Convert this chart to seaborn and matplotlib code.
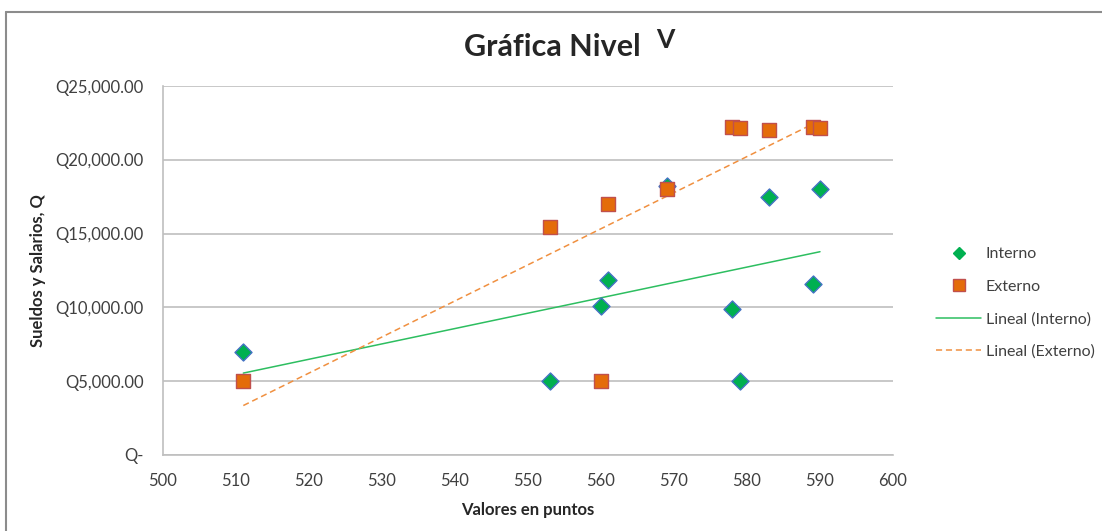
import numpy as np
import pandas as pd
import matplotlib
matplotlib.use("Agg")
import matplotlib.pyplot as plt
import seaborn as sns
from matplotlib.lines import Line2D
from matplotlib.ticker import FuncFormatter

# -------- Datos --------
puntos_interno = [511, 553, 560, 561, 569, 578, 579, 583, 589, 590]
sueldo_interno = [7000, 5000, 10100, 11850, 18200, 9900, 5000, 17450, 11600, 18000]

puntos_externo = [511, 553, 560, 561, 569, 578, 579, 583, 589, 590]
sueldo_externo = [5000, 15450, 5000, 17000, 18000, 22200, 22150, 22000, 22200, 22150]

x_ticks = [500, 510, 520, 530, 540, 550, 560, 570, 580, 590, 600]
y_ticks = [0, 5000, 10000, 15000, 20000, 25000]

df_int = pd.DataFrame({"puntos": puntos_interno, "sueldo": sueldo_interno})
df_ext = pd.DataFrame({"puntos": puntos_externo, "sueldo": sueldo_externo})

# -------- Estilo --------
sns.set_style("white")
plt.rcParams["font.family"] = ["Lato", "DejaVu Sans"]

VERDE = "#00B050"
AZUL = "#4472C4"
NARANJA = "#E46C0A"
ROJO = "#C0504D"
VERDE_TEND = "#2DBE60"
NARANJA_TEND = "#F09040"
GUION = (0, (4, 2.5))

fig = plt.figure(figsize=(11.02, 5.31), dpi=100)
ax = fig.add_axes([163 / 1102, 1 - 455 / 531, (893 - 163) / 1102, (455 - 86) / 531])

# líneas de tendencia (regresión lineal)
sns.regplot(data=df_int, x="puntos", y="sueldo", scatter=False, ci=None, ax=ax,
            line_kws={"color": VERDE_TEND, "lw": 1.1, "zorder": 2})
sns.regplot(data=df_ext, x="puntos", y="sueldo", scatter=False, ci=None, ax=ax,
            line_kws={"color": NARANJA_TEND, "lw": 1.1, "ls": GUION, "zorder": 2})

# puntos
sns.scatterplot(data=df_int, x="puntos", y="sueldo", marker="D", s=75, color=VERDE,
                edgecolor=AZUL, linewidth=1.0, ax=ax, zorder=3)
sns.scatterplot(data=df_ext, x="puntos", y="sueldo", marker="s", s=110, color=NARANJA,
                edgecolor=ROJO, linewidth=1.0, ax=ax, zorder=4)

ax.set_xlim(500, 600)
ax.set_ylim(0, 25000)
ax.set_xticks(x_ticks)
ax.set_yticks(y_ticks)


def fmt_q(v, pos):
    if v == 0:
        return "Q-"
    return f"Q{v:,.2f}"


ax.yaxis.set_major_formatter(FuncFormatter(fmt_q))
ax.tick_params(axis="both", length=0, labelsize=12, colors="#404040")
ax.tick_params(axis="y", pad=14)
ax.tick_params(axis="x", pad=13)

ax.grid(axis="y", color="#BFBFBF", lw=1.2)
ax.grid(axis="x", visible=False)
for lado in ["top", "right"]:
    ax.spines[lado].set_visible(False)
for lado in ["left", "bottom"]:
    ax.spines[lado].set_color("#BFBFBF")
    ax.spines[lado].set_linewidth(1.2)

ax.set_xlabel("Valores en puntos", fontsize=12, fontweight="bold", labelpad=9)
ax.set_ylabel("Sueldos y Salarios, Q", fontsize=12, fontweight="bold")
ax.yaxis.set_label_coords(-(163 - 46) / (893 - 163), 0.5)

# título
fig.text(552 / 1102, 1 - 56 / 531, "Gráfica Nivel", ha="center", va="baseline",
         fontsize=22, fontweight="bold")
fig.text(665 / 1102, 1 - 48 / 531, "V", ha="center", va="baseline",
         fontsize=19, fontweight="bold")

# leyenda
handles = [
    Line2D([], [], marker="D", ls="", markersize=6, markerfacecolor=VERDE, markeredgecolor=VERDE),
    Line2D([], [], marker="s", ls="", markersize=9, markerfacecolor=NARANJA, markeredgecolor=ROJO),
    Line2D([], [], color=VERDE_TEND, lw=1.1),
    Line2D([], [], color=NARANJA_TEND, lw=1.1, ls=GUION),
]
etiquetas = ["Interno", "Externo", "Lineal (Interno)", "Lineal (Externo)"]
fig.legend(handles, etiquetas, loc="center left", bbox_to_anchor=(922 / 1102, 1 - 303 / 531),
           frameon=False, fontsize=11.5, labelspacing=1.15, handlelength=2.8, handletextpad=0.3,
           labelcolor="#404040")

# borde del área de la gráfica
fig.add_artist(Line2D([6 / 1102, 6 / 1102], [0, 1 - 12 / 531], color="#8C8C8C", lw=1.5,
                      transform=fig.transFigure))
fig.add_artist(Line2D([6 / 1102, 1], [1 - 12 / 531, 1 - 12 / 531], color="#8C8C8C", lw=1.5,
                      transform=fig.transFigure))

fig.savefig("out.png", dpi=100)
